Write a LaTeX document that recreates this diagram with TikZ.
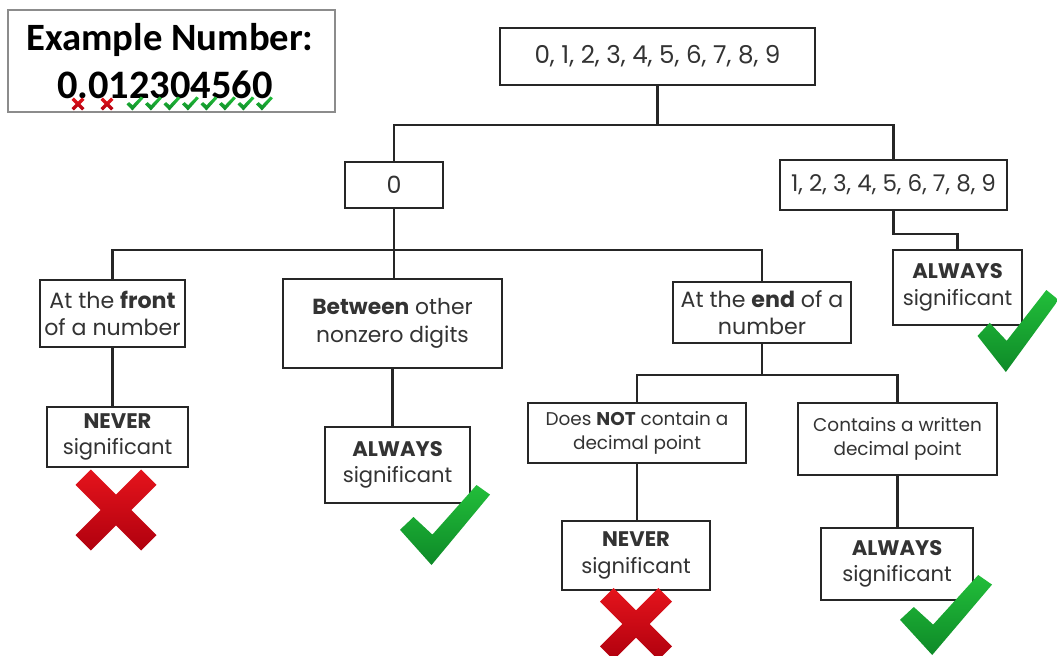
\documentclass[tikz,border=0pt]{standalone}
\usepackage{fontspec}
\setmainfont{Poppins}
\newfontfamily\calfont{Carlito}
\usetikzlibrary{positioning,calc}
\definecolor{ink}{HTML}{262626}
\definecolor{txt}{HTML}{333333}
\definecolor{frame}{HTML}{8C8C8C}
\definecolor{yes}{HTML}{22BE3A}
\definecolor{yesdark}{HTML}{0E8A28}
\definecolor{no}{HTML}{E5141C}
\definecolor{nodark}{HTML}{B0000E}

\tikzset{
 box/.style={draw=ink,line width=1.4pt,fill=white,text=txt,align=center,inner sep=0pt,font=\fontsize{12}{15}\selectfont},
 smallbox/.style={box,font=\fontsize{10.5}{14}\selectfont},
 wire/.style={ink,line width=1.4pt},
 tick/.pic={\shade[top color=yes,bottom color=yesdark]
   (-0.5,-0.06) -- (-0.35,0.10) -- (-0.14,-0.12) -- (0.35,0.5) -- (0.5,0.38) -- (-0.15,-0.5) -- cycle;},
 cross/.pic={\shade[top color=no,bottom color=nodark]
   (-0.5,0.31) -- (-0.31,0.5) -- (0,0.19) -- (0.31,0.5) -- (0.5,0.31) -- (0.19,0) -- (0.5,-0.31)
   -- (0.31,-0.5) -- (0,-0.19) -- (-0.31,-0.5) -- (-0.5,-0.31) -- (-0.19,0) -- cycle;}
}

\begin{document}
\begin{tikzpicture}[x=1cm,y=1cm]
\clip (0,0) rectangle (21.14,13.1);
\fill[white] (0,0) rectangle (21.14,13.1);
% example number
\node[draw=frame,line width=0.6pt,minimum width=6.54cm,minimum height=2.04cm] (example) at (3.43,11.88) {};
\node[font=\calfont\bfseries\fontsize{22}{26}\selectfont] (exlabel) at (3.40,12.3) {Example Number:};
\node[font=\calfont\bfseries\fontsize{23}{26}\selectfont] (exnum) at (3.30,11.4) {0.012304560};
\foreach \x in {1.56,2.14}
 \pic[scale=0.26] at (\x,11.02) {cross};
\foreach \k in {0,...,7}
 \pic[xscale=0.34,yscale=0.28] at (2.7+0.37*\k,11.03) {tick};
% tree
\node[box,font=\fontsize{14}{16}\selectfont,minimum width=6.3cm,minimum height=1.14cm] (digits) at (13.15,11.97) {0, 1, 2, 3, 4, 5, 6, 7, 8, 9};
\node[box,font=\fontsize{13.5}{16}\selectfont,minimum width=1.96cm,minimum height=0.92cm] (zero) at (7.88,9.4) {0};
\node[box,font=\fontsize{13.1}{16}\selectfont,minimum width=4.54cm,minimum height=1.0cm] (nonzero) at (17.87,9.4) {1, 2, 3, 4, 5, 6, 7, 8, 9};
\node[box,minimum width=2.58cm,minimum height=1.5cm] (always1) at (19.15,7.35) {\textbf{ALWAYS}\\significant};
\node[box,font=\fontsize{12.6}{15}\selectfont,minimum width=2.9cm,minimum height=1.34cm] (front) at (2.25,6.83) {At the \textbf{front}\\of a number};
\node[box,font=\fontsize{12.4}{16}\selectfont,minimum width=4.38cm,minimum height=1.78cm] (between) at (7.85,6.63) {\textbf{Between} other\\nonzero digits};
\node[box,font=\fontsize{12.6}{15}\selectfont,minimum width=3.56cm,minimum height=1.22cm] (endbox) at (15.24,6.85) {At the \textbf{end} of a\\number};
\node[box,minimum width=2.82cm,minimum height=1.2cm] (never1) at (2.35,4.36) {\textbf{NEVER}\\significant};
\node[box,minimum width=2.9cm,minimum height=1.52cm] (always2) at (7.95,3.8) {\textbf{ALWAYS}\\significant};
\node[smallbox,minimum width=4.36cm,minimum height=1.2cm] (nodec) at (12.74,4.44) {Does \textbf{NOT} contain a\\decimal point};
\node[smallbox,minimum width=3.98cm,minimum height=1.44cm] (contains) at (17.95,4.32) {Contains a written\\decimal point};
\node[box,minimum width=2.96cm,minimum height=1.38cm] (never2) at (12.72,1.99) {\textbf{NEVER}\\significant};
\node[box,minimum width=3.04cm,minimum height=1.44cm] (always3) at (17.94,1.82) {\textbf{ALWAYS}\\significant};
% bus levels
\coordinate (busA) at (0,10.6);
\coordinate (busB) at (0,8.1);
\coordinate (busC) at (0,5.6);
\draw[wire] (digits.south) -- (digits.south |- busA) -| (zero.north);
\draw[wire] (digits.south |- busA) -| (nonzero.north);
\draw[wire] (nonzero.south) -- ++(0,-0.46) -| (always1.north);
\draw[wire] (zero.south) -- (zero.south |- busB);
\draw[wire] (front.north) |- (busB -| endbox.north) -- (endbox.north);
\draw[wire] (zero.south |- busB) -- (zero.south |- between.north);
\draw[wire] (front.south) -- (front.south |- never1.north);
\draw[wire] (between.south) -- (between.south |- always2.north);
\draw[wire] (endbox.south) -- (endbox.south |- busC);
\draw[wire] (nodec.north) |- (busC -| contains.north) -- (contains.north);
\draw[wire] (nodec.south) -- (nodec.south |- never2.north);
\draw[wire] (contains.south) -- (contains.south |- always3.north);
% marks
\pic[scale=1.62] at (2.32,2.9) {cross};
\pic[scale=1.44] at (12.72,0.62) {cross};
\pic[xscale=1.8,yscale=1.6] at (8.9,2.6) {tick};
\pic[xscale=1.62,yscale=1.64] at (20.36,6.48) {tick};
\pic[xscale=1.84,yscale=1.6] at (18.92,0.8) {tick};
\end{tikzpicture}
\end{document}
